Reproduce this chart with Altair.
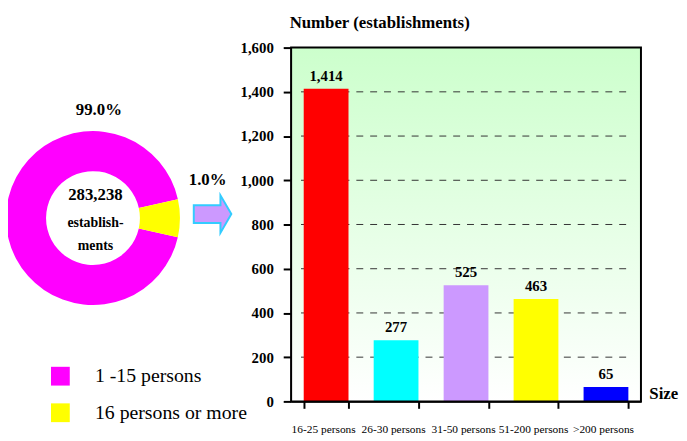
import math
import altair as alt
import pandas as pd

FONT = "Liberation Serif"

# ---- data ----
sizes = ["16-25 persons", "26-30 persons", "31-50 persons", "51-200 persons", ">200 persons"]
counts = [1414, 277, 525, 463, 65]
bar_colors = ["#ff0000", "#00ffff", "#cc99ff", "#ffff00", "#0000ff"]
y_ticks = [0, 200, 400, 600, 800, 1000, 1200, 1400, 1600]
grid_values = [200, 400, 600, 800, 1000, 1200, 1400]

donut_groups = ["1 -15 persons", "16 persons or more"]
donut_pct = [99.0, 1.0]
donut_drawn_share = [93.0, 7.0]   # slice sizes as drawn in the picture
donut_colors = ["#ff00ff", "#ffff00"]
total_establishments = 283238
center_words = ["establish-", "ments"]

W, H = 354, 358

bars_df = pd.DataFrame({"size": sizes, "count": counts, "color": bar_colors})
one = pd.DataFrame({"k": [0]})

yscale = alt.Scale(domain=[0, 1600], nice=False)

y_axis = alt.Axis(
    values=y_ticks, format=",.0f", formatType="number", grid=False,
    title="Number (establishments)", titleFont=FONT, titleFontSize=17,
    titleFontWeight="bold", titleAngle=0, titleAlign="left",
    titleBaseline="middle", titleX=-2, titleY=-25, titleColor="black",
    labelFont=FONT, labelFontSize=15, labelFontWeight="bold", labelColor="black",
    labelPadding=10, tickSize=8, tickWidth=2, tickColor="black",
    domainColor="black", domainWidth=2,
)

gradient = alt.LinearGradient(
    gradient="linear",
    stops=[alt.GradientStop(color="#ccffcc", offset=0),
           alt.GradientStop(color="#ffffff", offset=1)],
    x1=0, x2=0, y1=0, y2=1,
)

bg = alt.Chart(one).mark_rect(color=gradient).encode(
    x=alt.value(0), x2=alt.value(W), y=alt.value(0), y2=alt.value(H)
)

grid = alt.Chart(pd.DataFrame({"count": grid_values})).mark_rule(
    color="#333333", strokeDash=[7, 7], strokeWidth=1
).encode(
    y=alt.Y("count:Q", scale=yscale, axis=y_axis),
    x=alt.value(10), x2=alt.value(W - 8),
)

bars = alt.Chart(bars_df).mark_bar().encode(
    x=alt.X(
        "size:N", sort=sizes,
        scale=alt.Scale(paddingInner=0.36, paddingOuter=0.18),
        axis=alt.Axis(
            title="Size", titleFont=FONT, titleFontSize=17, titleFontWeight="bold",
            titleAngle=0, titleAlign="left", titleBaseline="middle", titleColor="black",
            titleX=W + 8, titleY=-8,
            labelAngle=0, labelFont=FONT, labelFontSize=11.5, labelColor="black",
            labelPadding=15, labelOffset=-3, labelOverlap=False, labelLimit=200,
            labelBound=False,
            tickBand="extent", tickSize=7, tickWidth=2, tickColor="black",
            domainColor="black", domainWidth=2,
        ),
    ),
    y=alt.Y("count:Q", scale=yscale, axis=y_axis),
    color=alt.Color("color:N", scale=None),
)

bar_labels = alt.Chart(bars_df).mark_text(
    font=FONT, fontSize=15, fontWeight="bold", baseline="bottom", dy=-5, color="black"
).encode(
    x=alt.X("size:N", sort=sizes),
    y=alt.Y("count:Q", scale=yscale),
    text=alt.Text("count:Q", format=","),
)

border = alt.Chart(one).mark_rect(fillOpacity=0, stroke="black", strokeWidth=2).encode(
    x=alt.value(0), x2=alt.value(W), y=alt.value(0), y2=alt.value(H)
)

start = math.radians(77.5)
donut_df = pd.DataFrame({"group": donut_groups, "share": donut_drawn_share, "order": [1, 0]})
donut = alt.Chart(donut_df).mark_arc(outerRadius=88, innerRadius=47.5).encode(
    theta=alt.Theta("share:Q", stack=True, scale=alt.Scale(range=[start, start + 2 * math.pi])),
    order=alt.Order("order:Q"),
    color=alt.Color(
        "group:N",
        scale=alt.Scale(domain=donut_groups, range=donut_colors),
        legend=alt.Legend(
            title=None, orient="none", legendX=-243.5, legendY=322.5,
            symbolType="square", symbolSize=361, symbolStrokeWidth=0, symbolOpacity=1,
            labelFont=FONT, labelFontSize=20, labelColor="black", labelOffset=25,
            rowPadding=17, labelLimit=300,
        ),
    ),
    x=alt.value(-200.5), y=alt.value(172.5),
)


def label(text, x, y, size):
    return alt.Chart(pd.DataFrame({"t": [text]})).mark_text(
        font=FONT, fontWeight="bold", fontSize=size, align="center", baseline="middle",
        color="black",
    ).encode(text="t:N", x=alt.value(x), y=alt.value(y))


labels = [
    label(f"{donut_pct[0]:.1f}%", -194.5, 63.5, 17),
    label(f"{donut_pct[1]:.1f}%", -84.5, 134.5, 17),
    label(f"{total_establishments:,}", -198, 149.5, 17),
    label(center_words[0], -198, 177.5, 14),
    label(center_words[1], -198, 200.5, 14),
]

ARROW = "M -1 -0.47 L 0.42 -0.47 L 0.42 -1 L 1 0 L 0.42 1 L 0.42 0.47 L -1 0.47 Z"
arrow = alt.Chart(one).mark_point(
    shape=ARROW, size=1444, filled=True, fill="#cc99ff", stroke="#33ccff",
    strokeWidth=2, opacity=1, fillOpacity=1, strokeOpacity=1,
).encode(x=alt.value(-79.5), y=alt.value(168.5))

chart = alt.layer(bg, grid, bars, bar_labels, border, donut, *labels, arrow).resolve_scale(
    color="independent"
).properties(
    width=W, height=H,
    autosize=alt.AutoSizeParams(type="none"),
    padding={"left": 286.5, "top": 37.5, "right": 38.5, "bottom": 37},
).configure_view(stroke=None).configure(background="white")

chart.save("out.html", embed_options={"renderer": "svg", "actions": False})
